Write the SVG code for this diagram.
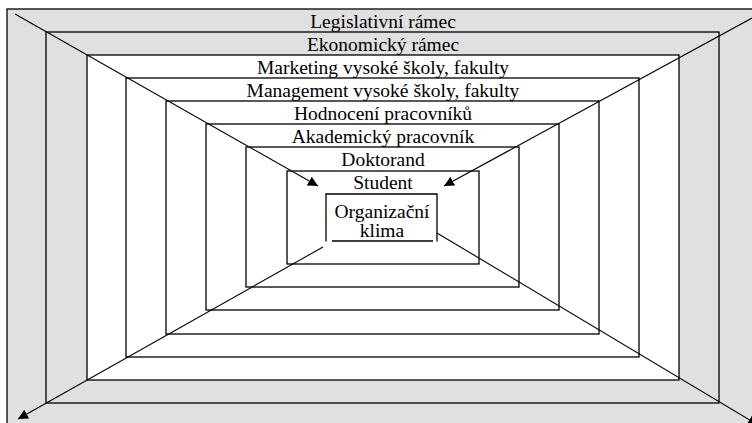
<svg xmlns="http://www.w3.org/2000/svg" width="752" height="423" viewBox="0 0 752 423">
<style>
.ring{stroke:#000;stroke-width:1.3;}
.g{fill:#e0e0e0;}
.w{fill:#fff;}
.lbl{font-family:"Liberation Serif","Times New Roman",serif;font-size:19.5px;fill:#000;text-anchor:middle;}
.con{stroke:#000;stroke-width:1.1;fill:none;marker-end:url(#ah);}
</style>
<defs>
<marker id="ah" viewBox="0 0 10 10" refX="10" refY="5" markerWidth="10" markerHeight="10" markerUnits="userSpaceOnUse" orient="auto">
<path d="M0,0 L10,5 L0,10 Z" fill="#000"/>
</marker>
</defs>
<rect x="0" y="0" width="752" height="423" fill="#fff"/>
<g id="legislativni">
<rect class="ring g" x="7" y="9" width="760" height="430"/>
<text class="lbl" x="383" y="27.5">Legislativní rámec</text>
</g>
<g id="ekonomicky">
<rect class="ring g" x="46" y="32" width="673" height="371"/>
<text class="lbl" x="383" y="50.5">Ekonomický rámec</text>
</g>
<g id="marketing">
<rect class="ring w" x="87" y="55" width="592" height="325"/>
<text class="lbl" x="383" y="73.5">Marketing vysoké školy, fakulty</text>
</g>
<g id="management">
<rect class="ring w" x="126" y="78" width="513" height="279"/>
<text class="lbl" x="383" y="96.5">Management vysoké školy, fakulty</text>
</g>
<g id="hodnoceni">
<rect class="ring w" x="166" y="101" width="433" height="233"/>
<text class="lbl" x="383" y="119.5">Hodnocení pracovníků</text>
</g>
<g id="akademicky">
<rect class="ring w" x="206" y="124" width="353" height="186"/>
<text class="lbl" x="383" y="142.5">Akademický pracovník</text>
</g>
<g id="doktorand">
<rect class="ring w" x="246" y="147" width="273" height="140"/>
<text class="lbl" x="383" y="165.5">Doktorand</text>
</g>
<g id="student">
<rect class="ring w" x="287" y="171" width="192" height="93"/>
<text class="lbl" x="383" y="189">Student</text>
</g>
<g id="klima">
<rect x="326" y="194" width="111" height="47" fill="#fff"/>
<path class="ring" fill="none" d="M326,241.5 V194 H437 V241.5 M332,241 H433"/>
<text class="lbl" x="382" y="218">Organizační</text>
<text class="lbl" x="382" y="237">klima</text>
</g>
<g id="connectors">
<line class="con" x1="15" y1="14" x2="318" y2="186"/>
<line class="con" x1="752" y1="18" x2="444" y2="186"/>
<line class="con" x1="323" y1="247" x2="18" y2="419"/>
<line class="con" x1="437" y1="233" x2="758" y2="425"/>
</g>
</svg>
